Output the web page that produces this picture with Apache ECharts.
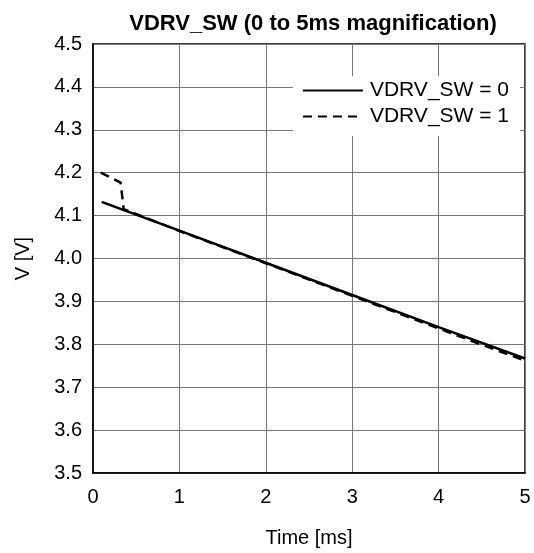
<!DOCTYPE html>
<html><head><meta charset="utf-8">
<script src="https://cdn.jsdelivr.net/npm/echarts@6/dist/echarts.min.js"></script>
<style>html,body{margin:0;padding:0;background:#fff}#c{width:534px;height:553px}</style>
</head><body><div id="c"></div>
<script>
const xTicks = [0, 1, 2, 3, 4, 5];
const yTicks = ['3.5','3.6','3.7','3.8','3.9','4.0','4.1','4.2','4.3','4.4','4.5'];
const seriesNames = ['VDRV_SW = 0', 'VDRV_SW = 1'];
const t0 = [0.1, 1, 2, 3, 4, 5];
const v0 = [4.132, 4.065, 3.99, 3.915, 3.84, 3.767];
const t1 = [0.09, 0.32, 0.355, 1, 2, 3, 4, 4.5, 5];
const v1 = [4.2, 4.177, 4.115, 4.064, 3.989, 3.913, 3.837, 3.799, 3.762];

const font = 'Liberation Sans, Arial, sans-serif';
const chart = echarts.init(document.getElementById('c'));
chart.setOption({
  animation: false,
  title: { text: 'VDRV_SW (0 to 5ms magnification)', left: 308, top: 8, textAlign: 'center',
    textStyle: { fontFamily: font, fontSize: 22, fontWeight: 'bold', color: '#000' } },
  grid: { left: 93, right: 9, top: 44, bottom: 80, show: true, borderColor: '#000', borderWidth: 1.5 },
  legend: {
    data: seriesNames.map(n => ({ name: n, itemStyle: { opacity: 0 } })),
    right: 14, top: 76, orient: 'vertical', itemWidth: 60, itemHeight: 16, itemGap: 5,
    backgroundColor: '#fff', padding: [4, 11, 9, 9],
    textStyle: { fontFamily: font, fontSize: 21, color: '#000', padding: [0, 0, 0, 2] }
  },
  xAxis: {
    type: 'value', min: 0, max: 5, interval: 1,
    name: 'Time [ms]', nameLocation: 'middle', nameGap: 55,
    nameTextStyle: { fontFamily: font, fontSize: 20, color: '#000' },
    axisLine: { show: true, lineStyle: { color: '#000', width: 1.5 } },
    axisTick: { show: false },
    axisLabel: { fontFamily: font, fontSize: 20, color: '#000', margin: 14, formatter: v => String(xTicks[Math.round(v)]) },
    splitLine: { show: true, lineStyle: { color: '#777', width: 1 } }
  },
  yAxis: {
    type: 'value', min: 3.5, max: 4.5, interval: 0.1,
    name: 'V [V]', nameLocation: 'middle', nameGap: 60,
    nameTextStyle: { fontFamily: font, fontSize: 20, color: '#000' },
    axisLine: { show: true, lineStyle: { color: '#000', width: 1.5 } },
    axisTick: { show: false },
    axisLabel: { fontFamily: font, fontSize: 20, color: '#000', margin: 11,
      formatter: v => yTicks[Math.round((v - 3.5) * 10)] },
    splitLine: { show: true, lineStyle: { color: '#777', width: 1 } }
  },
  series: [
    { name: seriesNames[0], type: 'line', symbol: 'none', z: 3,
      data: t0.map((t, i) => [t, v0[i]]),
      lineStyle: { color: '#000', width: 2.5, type: 'solid' }, itemStyle: { color: '#000' } },
    { name: seriesNames[1], type: 'line', symbol: 'none', z: 2,
      data: t1.map((t, i) => [t, v1[i]]),
      lineStyle: { color: '#000', width: 2.5, type: [9, 6] }, itemStyle: { color: '#000' } }
  ]
});
</script></body></html>
